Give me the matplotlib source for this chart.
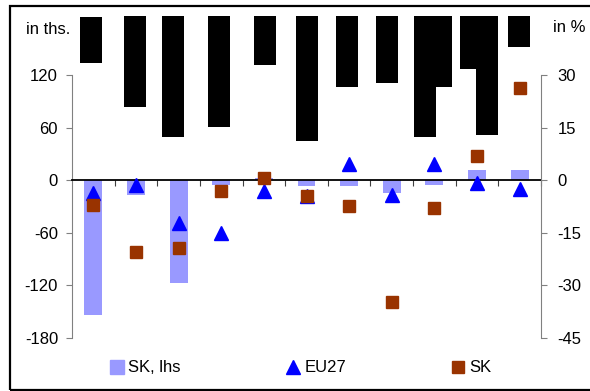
import numpy as np
import matplotlib
matplotlib.use('Agg')
import matplotlib.pyplot as plt
from matplotlib.patches import Rectangle
from matplotlib.lines import Line2D

plt.rcParams['font.family'] = ['Liberation Sans', 'DejaVu Sans']
plt.rcParams['axes.unicode_minus'] = False

# 11 periods, category labels are blacked out in the source
sk_lhs = [-154, -17, -117, -6, 2, -7, -7, -14.5, -6, 11.5, 11.5]     # in ths.
eu27 = [-3.7, -1.4, -12.2, -15.1, -3.0, -4.5, 4.6, -4.1, 4.6, -0.8, -2.4]  # in %
sk = [-7.2, -20.5, -19.2, -3.2, 0.7, -4.5, -7.4, -34.8, -7.9, 7.0, 26.3]  # in %

left_ticks = [-180, -120, -60, 0, 60, 120]
right_ticks = [-45, -30, -15, 0, 15, 30]

# redaction boxes over the category labels (pixels: x0, x1, y0, y1)
black_boxes = [(80, 102, 17, 63), (124, 146, 16, 107), (162, 184, 16, 137),
               (208, 230, 16, 127), (254, 276, 16, 65), (296, 318, 16, 141),
               (336, 358, 16, 87), (376, 398, 16, 83), (414, 436, 16, 137),
               (414, 452, 16, 87), (460, 498, 16, 69), (476, 498, 16, 135),
               (508, 530, 16, 47)]

W, H = 590, 391
fig = plt.figure(figsize=(W / 100, H / 100), dpi=100)
ax = fig.add_axes([72 / W, 1 - 338 / H, 469 / W, (338 - 75) / H])
ax2 = ax.twinx()

x = np.arange(len(sk_lhs))
ax.bar(x, sk_lhs, width=0.42, color='#9999ff', zorder=2)
ax2.plot(x, eu27, ls='none', marker='^', ms=10, color='#0000ff', zorder=3)
ax2.plot(x, sk, ls='none', marker='s', ms=8, color='#993300', zorder=4)

ax.set_xlim(-0.5, len(x) - 0.5)
ax.set_ylim(-180, 120)
ax2.set_ylim(-45, 30)

ax.set_yticks(left_ticks)
ax.set_yticklabels([str(t) for t in left_ticks])
ax2.set_yticks(right_ticks)
ax2.set_yticklabels([str(t) for t in right_ticks])

for a in (ax, ax2):
    for s in a.spines.values():
        s.set_visible(False)
ax.spines['left'].set_visible(True)
ax.spines['left'].set_color('#808080')
ax2.spines['right'].set_visible(True)
ax2.spines['right'].set_color('#808080')
ax.spines['bottom'].set_visible(True)
ax.spines['bottom'].set_position(('data', 0))
ax.spines['bottom'].set_color('black')
ax.spines['bottom'].set_linewidth(1.3)
ax.spines['bottom'].set_zorder(5)

ax.set_xticks(np.arange(0.5, len(x), 1))
ax.set_xticklabels([])
ax.tick_params(axis='x', direction='out', length=4, color='#404040')
ax.tick_params(axis='y', direction='out', length=4, color='#808080', pad=6, labelsize=12)
ax2.tick_params(axis='y', direction='out', length=4, color='#808080', pad=8, labelsize=12)

fig.text(26 / W, 1 - 29 / H, 'in ths.', fontsize=12, va='center', ha='left')
fig.text(553 / W, 1 - 27 / H, 'in %', fontsize=12, va='center', ha='left')

for x0, x1, y0, y1 in black_boxes:
    fig.add_artist(Rectangle((x0 / W, 1 - y1 / H), (x1 - x0) / W, (y1 - y0) / H,
                             transform=fig.transFigure, color='black', lw=0))

# outer frame
fig.add_artist(Rectangle((10 / W, 1 - 390 / H), 600 / W, 384 / H, transform=fig.transFigure,
                         fill=False, edgecolor='black', lw=1.6, clip_on=False))

handles = [Line2D([], [], ls='none', marker='s', ms=9.5, color='#9999ff'),
           Line2D([], [], ls='none', marker='^', ms=10, color='#0000ff'),
           Line2D([], [], ls='none', marker='s', ms=9, color='#993300')]
fig.legend(handles, ['SK, lhs', 'EU27', 'SK'], ncol=3, frameon=False,
           loc='center left', bbox_to_anchor=(110 / W, 1 - 368 / H),
           borderpad=0, borderaxespad=0, handlelength=0.8, handletextpad=0.3,
           columnspacing=6.3, fontsize=12)

fig.savefig('out.png', dpi=100)
